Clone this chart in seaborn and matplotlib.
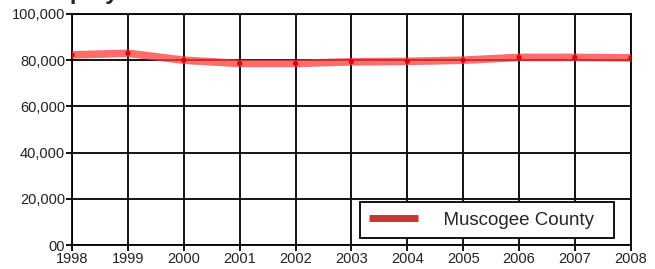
import numpy as np
import pandas as pd
import matplotlib
matplotlib.use("Agg")
import matplotlib.pyplot as plt
import seaborn as sns

YEARS = [1998, 1999, 2000, 2001, 2002, 2003, 2004, 2005, 2006, 2007, 2008]
EMPLOYMENT = [82300, 83000, 80000, 78600, 78600, 79300, 79500, 80000, 81200, 81200, 81000]
SERIES = "Muscogee County"
Y_TICKS = [0, 20000, 40000, 60000, 80000, 100000]
Y_LABELS = ["00", "20,000", "40,000", "60,000", "80,000", "100,000"]

df = pd.DataFrame({"year": YEARS, "employment": EMPLOYMENT})

sns.set_style("white")
plt.rcParams["font.family"] = ["Liberation Sans", "DejaVu Sans"]

fig = plt.figure(figsize=(6.55, 2.69), dpi=100)
ax = fig.add_axes([0.110, 0.089, 0.853, 0.859])

# thick translucent band + dark point markers
sns.lineplot(data=df, x="year", y="employment", ax=ax, color="#ff3b3b",
             alpha=0.75, linewidth=5.5, zorder=3)
sns.scatterplot(data=df, x="year", y="employment", ax=ax, color="#e00000",
                s=14, edgecolor="none", zorder=4)

ax.set_xlim(1998, 2008)
ax.set_ylim(0, 100000)
ax.set_xticks(YEARS)
ax.set_xticklabels([str(y) for y in YEARS], fontsize=10.5)
ax.set_yticks(Y_TICKS)
ax.set_yticklabels(Y_LABELS, fontsize=10.5)
ax.set_xlabel("")
ax.set_ylabel("")
ax.grid(True, color="black", linewidth=1.3)
ax.set_axisbelow(True)
for s in ax.spines.values():
    s.set_color("black")
    s.set_linewidth(1.3)
ax.tick_params(axis="both", direction="out", length=4, width=1.3,
               color="black", pad=1, labelcolor="#222222",
               left=True, bottom=True)

h = plt.Line2D([], [], color="#cc3333", linewidth=5, solid_capstyle="butt")
leg = ax.legend([h], [SERIES], loc="lower right", bbox_to_anchor=(0.97, 0.03),
                frameon=True, fancybox=False, fontsize=13.5, handlelength=2.6,
                borderpad=0.5, handletextpad=0.8, borderaxespad=0)
leg.get_frame().set_edgecolor("black")
leg.get_frame().set_linewidth(1.3)
leg.get_frame().set_alpha(1)
for t in leg.get_texts():
    t.set_text("  " + t.get_text() + "  ")

# title sits partly above the canvas, as in the source image
fig.text(0.05, 0.985, "Employment Trends", fontsize=17, fontweight="bold",
         va="bottom", ha="left")

fig.savefig("out.png", dpi=100)
